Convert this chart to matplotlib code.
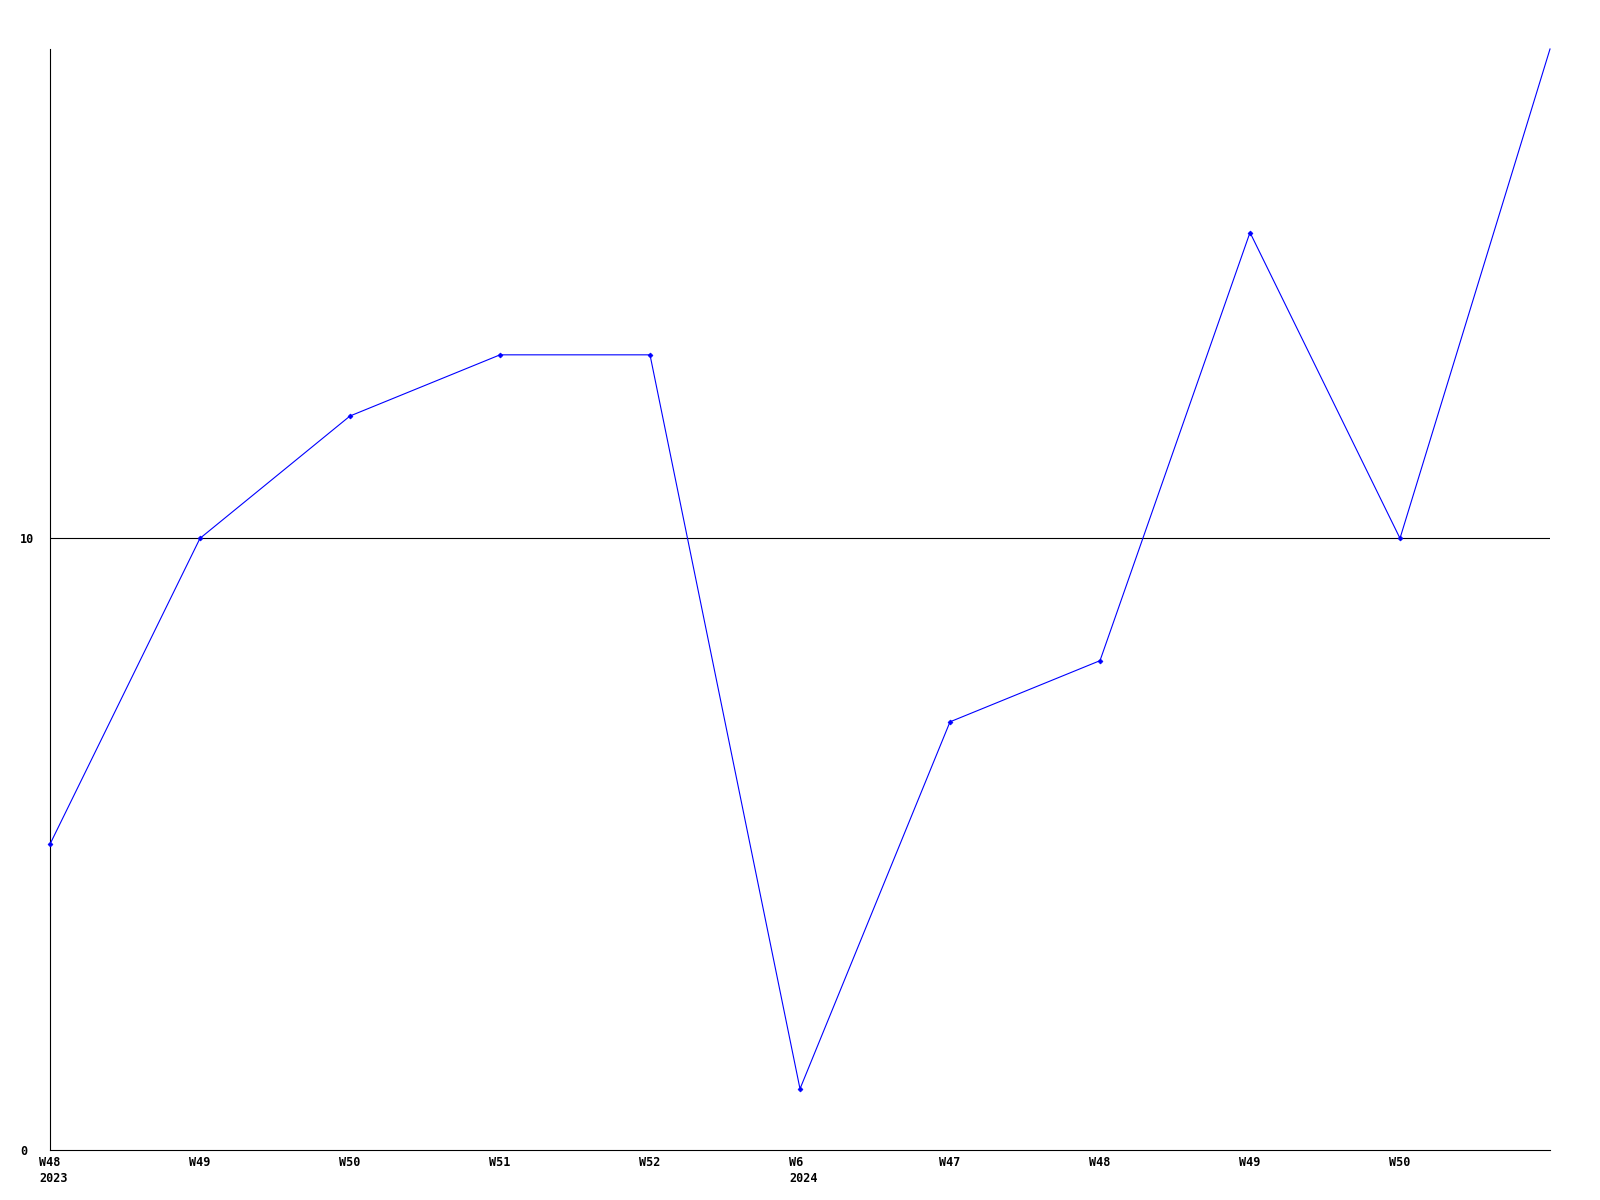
import matplotlib
matplotlib.use("Agg")
import matplotlib.pyplot as plt
from matplotlib.transforms import ScaledTranslation

# weekly counts
weeks = ["W48\n2023", "W49", "W50", "W51", "W52", "W6\n2024",
         "W47", "W48", "W49", "W50", ""]
values = [5, 10, 12, 13, 13, 1, 7, 8, 15, 10, 18]
y_ticks = [0, 10]
y_labels = ["0", "10"]

W, H = 1600, 1200
fig = plt.figure(figsize=(16, 12), dpi=100)
ax = fig.add_axes([50 / W, 50 / H, 1500 / W, 1101 / H])

x = list(range(len(values)))
# the last point is drawn without a marker in the original
ax.plot(x, values, color="#0000ff", lw=0.8, marker="D", ms=2.5,
        markeredgewidth=0.5, markevery=list(range(len(values) - 1)),
        clip_on=False, zorder=3)

ax.set_xlim(0, len(values) - 1)
ax.set_ylim(0, 18)

for s in ("top", "right"):
    ax.spines[s].set_visible(False)
for s in ("left", "bottom"):
    ax.spines[s].set_color("black")
    ax.spines[s].set_linewidth(0.8)

ax.axhline(10, color="black", lw=0.8, zorder=1)

font = dict(family="DejaVu Sans Mono", weight="bold", size=8.5)

ax.set_xticks(x)
ax.set_xticklabels(weeks, **font)
ax.tick_params(axis="x", length=0, pad=4)
off = ScaledTranslation(-11 / 100, 0, fig.dpi_scale_trans)
for lab in ax.get_xticklabels():
    lab.set_horizontalalignment("left")
    lab.set_multialignment("left")
    lab.set_linespacing(1.35)
    lab.set_transform(lab.get_transform() + off)

ax.set_yticks(y_ticks)
ax.set_yticklabels(y_labels, **font)
ax.tick_params(axis="y", length=0, pad=21.6)
for lab in ax.get_yticklabels():
    lab.set_horizontalalignment("left")

fig.savefig("out.png", dpi=100, facecolor="white")
